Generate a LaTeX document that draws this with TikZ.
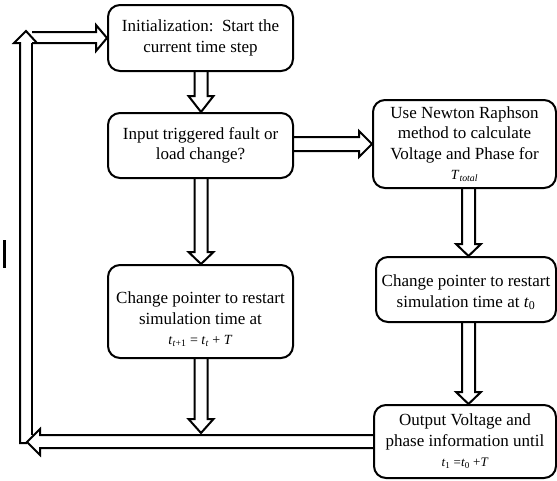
\documentclass[tikz,border=0pt]{standalone}
\usepackage{fontspec}
\setmainfont{Liberation Serif}
\usetikzlibrary{calc}

% hollow downward block arrow from node #2 to node #3, centred on x = #4 (pt)
\newcommand{\downfat}[4][14]{%
  \draw[fat] let \p1=(#2.south), \p2=(#3.north) in
    ({#4pt-6.5pt},\y1) -- ({#4pt-6.5pt},\y2+#1pt) -- ({#4pt-12.5pt},\y2+#1pt)
    -- (#4pt,\y2) -- ({#4pt+12.5pt},\y2+#1pt) -- ({#4pt+6.5pt},\y2+#1pt)
    -- ({#4pt+6.5pt},\y1);}
\newcommand{\vi}[1]{\textit{#1}}

\begin{document}
\begin{tikzpicture}[x=1pt,y=-1pt,
  boxtext/.style={align=center, inner sep=1pt, font=\fontsize{17}{20.5}\selectfont},
  box/.style={boxtext, draw, line width=2pt, rounded corners=12pt},
  fat/.style={draw, line width=2pt, line join=miter, miter limit=10}]
\useasboundingbox (0,0) rectangle (557,480);

% process boxes
\node[box, minimum width=185pt, minimum height=66pt] (init) at (200.5,38)
  {Initialization:\ \ Start the\\current time step};
\node[box, minimum width=185pt, minimum height=65pt] (query) at (200.5,145.5)
  {Input triggered fault or\\load change?};
\node[box, minimum width=185pt, minimum height=93pt] (leftptr) at (200.5,311.5) {};
\node[boxtext] (leftptrtext) at ([yshift=-8pt]leftptr.center)
  {Change pointer to restart\\simulation time at\\
   {\fontsize{14}{15}\selectfont\vi{t}\textsubscript{\vi{t}+1} = \vi{t}\textsubscript{\vi{t}} + \vi{T}}};
\node[box, minimum width=183pt, minimum height=88pt] (newton) at (464.5,144)
  {Use Newton Raphson\\method to calculate\\Voltage and Phase for\\
   {\fontsize{14}{15}\selectfont\vi{T}\textsubscript{\vi{total}}}};
\node[box, minimum width=180pt, minimum height=65pt] (rightptr) at (466,289.5) {};
\node[boxtext] (rightptrtext) at ([yshift=-3pt]rightptr.center)
  {Change pointer to restart\\simulation time at \vi{t}\textsubscript{0}};
\node[box, minimum width=182pt, minimum height=73pt] (out) at (465,441.5)
  {Output Voltage and\\phase information until\\
   {\fontsize{13}{15}\selectfont\vi{t}\textsubscript{1} =\vi{t}\textsubscript{0} +\vi{T}}};

\coordinate (merge) at (201,433);

% block arrows
\downfat[16]{init}{query}{201}
\downfat[12]{query}{leftptr}{201}
\downfat{leftptr}{merge}{201}
\downfat[12]{newton}{rightptr}{468.5}
\downfat[12]{rightptr}{out}{468.5}

\draw[fat] let \p1=(query.east), \p2=(newton.west) in
  (\x1,-137pt) -- (\x2-13pt,-137pt) -- (\x2-13pt,-131pt) -- (\x2,-144pt)
  -- (\x2-13pt,-157pt) -- (\x2-13pt,-151pt) -- (\x1,-151pt);

% return path back to the start
\draw[fat] let \p1=(out.west) in
  (\x1,-435pt) -- (40pt,-435pt) -- (40pt,-429pt) -- (27pt,-442pt)
  -- (40pt,-455pt) -- (40pt,-448pt) -- (\x1,-448pt);
\draw[fat] (27,443) -- (20,443) -- (20,43) -- (14,43) -- (26,31) -- (37,43);
\draw[fat] (32,43) -- (32,435);
\draw[fat] let \p1=(init.west) in
  (32pt,-32pt) -- (\x1-11pt,-32pt) -- (\x1-11pt,-25pt) -- (\x1,-38pt)
  -- (\x1-11pt,-51pt) -- (\x1-11pt,-43pt) -- (32pt,-43pt);

\fill (3,240) rectangle (6,268);
\end{tikzpicture}
\end{document}
